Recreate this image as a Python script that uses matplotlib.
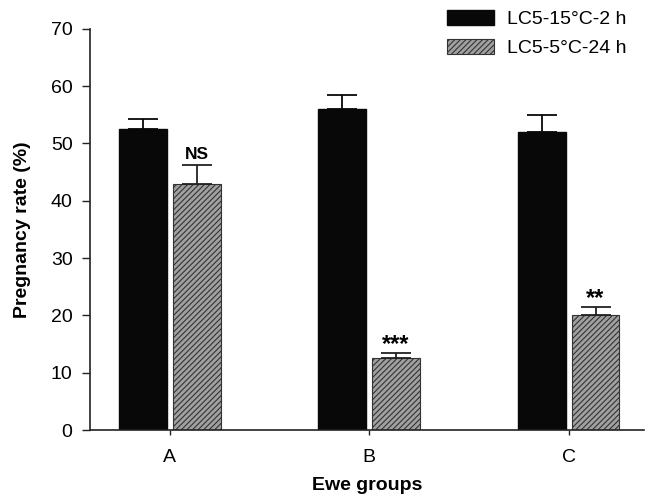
import matplotlib
matplotlib.use("Agg")
import matplotlib.pyplot as plt
import numpy as np

plt.rcParams['font.family'] = ['Liberation Sans', 'DejaVu Sans']
plt.rcParams['hatch.color'] = '#333333'
plt.rcParams['hatch.linewidth'] = 0.8

groups = ['A', 'B', 'C']
series_names = ['LC5-15°C-2 h', 'LC5-5°C-24 h']
rate_15c = [52.5, 56.0, 52.0]
err_15c = [1.8, 2.5, 3.0]
rate_5c = [43.0, 12.5, 20.0]
err_5c = [3.3, 1.0, 1.5]
marks_5c = ['NS', '***', '**']

fig = plt.figure(figsize=(6.47, 4.98), dpi=100)
ax = fig.add_axes([0.139, 0.1365, 0.857, 0.8055])

x = np.arange(len(groups))
w = 0.24
gap = 0.015

ax.bar(x - w/2 - gap, rate_15c, width=w, color='#080808', edgecolor='#080808',
       label=series_names[0])
ax.bar(x + w/2 + gap, rate_5c, width=w, color='#a0a0a0', edgecolor='#333333',
       linewidth=0.8, hatch='//////', label=series_names[1])

ax.errorbar(x - w/2 - gap, rate_15c, yerr=[np.zeros(3), err_15c], fmt='none',
            ecolor='#080808', elinewidth=1.3, capsize=11, capthick=1.3)
ax.errorbar(x + w/2 + gap, rate_5c, yerr=[np.zeros(3), err_5c], fmt='none',
            ecolor='#222222', elinewidth=1.3, capsize=11, capthick=1.3)

# significance marks above the 5 °C bars
for xi, v, e, m in zip(x, rate_5c, err_5c, marks_5c):
    if m == 'NS':
        ax.text(xi + w/2 + gap, v + e + 0.5, m, ha='center', va='bottom',
                fontsize=12.5, fontweight='bold')
    else:
        ax.text(xi + w/2 + gap, v + e - 0.6, m, ha='center', va='bottom',
                fontsize=17, fontweight='bold')

ax.set_xlim(-0.4, 2.38)
ax.set_ylim(0, 70)
ax.set_yticks(np.arange(0, 71, 10))
ax.set_xticks(x)
ax.set_xticklabels(groups)
ax.tick_params(axis='both', labelsize=14, direction='out', width=1,
               colors='#222222', labelcolor='black')
ax.tick_params(axis='y', length=5.5, pad=7)
ax.tick_params(axis='x', length=3.5, pad=10)
for s in ['top', 'right']:
    ax.spines[s].set_visible(False)
for s in ['left', 'bottom']:
    ax.spines[s].set_linewidth(1.2)
    ax.spines[s].set_color('#222222')

ax.set_xlabel('Ewe groups', fontsize=14, fontweight='bold', labelpad=8)
ax.set_ylabel('Pregnancy rate (%)', fontsize=14, fontweight='bold', labelpad=14)

ax.legend(loc='upper right', bbox_to_anchor=(1.0, 1.09), frameon=False,
          fontsize=14, handlelength=2.4, handleheight=0.8, labelspacing=0.55,
          handletextpad=0.7)

fig.savefig('out.png', dpi=100)
